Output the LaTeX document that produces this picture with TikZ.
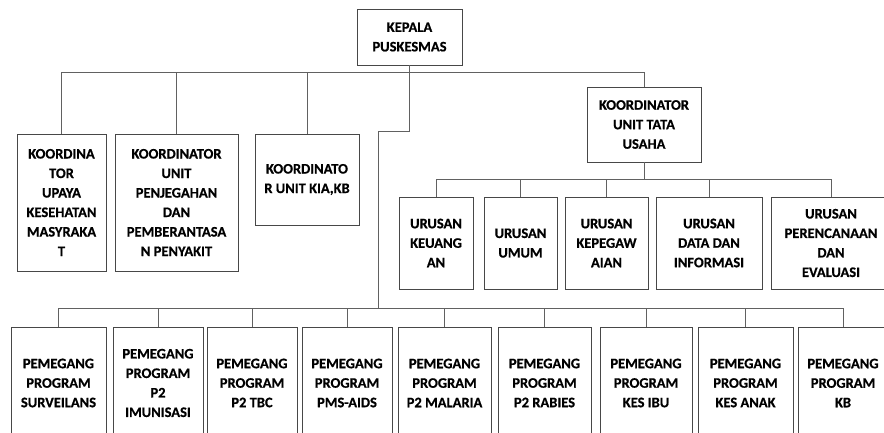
\documentclass[tikz,border=0pt]{standalone}
\usepackage{fontspec}
\setmainfont{Carlito}[BoldFont={Carlito Bold},BoldFeatures={FakeBold=0.6}]
\begin{document}
\begin{tikzpicture}[x=1pt,y=-1pt,
  bx/.style={draw=black!72,line width=0.9pt,rectangle,inner sep=0pt,align=center,
    font=\fontsize{14.5}{19.5}\selectfont\bfseries,text=black},
  ln/.style={draw=black!62,line width=0.9pt}]
\useasboundingbox (0,0) rectangle (884,432);
\clip (0,0) rectangle (884,432);
% nodes
\node[bx,minimum width=105,minimum height=56] (kepala) at (409.5,37) {KEPALA\\PUSKESMAS};
\node[bx,minimum width=89,minimum height=137] (k1) at (61.5,202.5) {KOORDINA\\TOR\\UPAYA\\KESEHATAN\\MASYRAKA\\T};
\node[bx,minimum width=123,minimum height=137] (k2) at (176.5,202.5) {KOORDINATOR\\UNIT\\PENJEGAHAN\\DAN\\PEMBERANTASA\\N PENYAKIT};
\node[bx,minimum width=104,minimum height=91] (k3) at (307,179.5) {KOORDINATO\\R UNIT KIA,KB};
\node[bx,minimum width=114,minimum height=75] (tu) at (644,124.5) {KOORDINATOR\\UNIT TATA\\USAHA};
\node[bx,minimum width=74,minimum height=92] (u1) at (436,243) {URUSAN\\KEUANG\\AN};
\node[bx,minimum width=73,minimum height=92] (u2) at (520.5,243) {URUSAN\\UMUM};
\node[bx,minimum width=83,minimum height=92] (u3) at (606.5,243) {URUSAN\\KEPEGAW\\AIAN};
\node[bx,minimum width=106,minimum height=92] (u4) at (709,243) {URUSAN\\DATA DAN\\INFORMASI};
\node[bx,minimum width=120,minimum height=92] (u5) at (831,243) {URUSAN\\PERENCANAAN\\DAN\\EVALUASI};
\node[bx,minimum width=95,minimum height=112] (b1) at (58.5,383) {PEMEGANG\\PROGRAM\\SURVEILANS};
\node[bx,minimum width=90,minimum height=112] (b2) at (158,383) {PEMEGANG\\PROGRAM\\P2\\IMUNISASI};
\node[bx,minimum width=90,minimum height=112] (b3) at (252,383) {PEMEGANG\\PROGRAM\\P2 TBC};
\node[bx,minimum width=90,minimum height=112] (b4) at (347,383) {PEMEGANG\\PROGRAM\\PMS-AIDS};
\node[bx,minimum width=93,minimum height=112] (b5) at (444.5,383) {PEMEGANG\\PROGRAM\\P2 MALARIA};
\node[bx,minimum width=93,minimum height=112] (b6) at (544.5,383) {PEMEGANG\\PROGRAM\\P2 RABIES};
\node[bx,minimum width=92,minimum height=112] (b7) at (646,383) {PEMEGANG\\PROGRAM\\KES IBU};
\node[bx,minimum width=95,minimum height=112] (b8) at (745.5,383) {PEMEGANG\\PROGRAM\\KES ANAK};
\node[bx,minimum width=90,minimum height=112] (b9) at (843,383) {PEMEGANG\\PROGRAM\\KB};
% bus coordinates
\coordinate (busA) at (0,72);
\coordinate (jog) at (378,131);
\coordinate (busT) at (0,179);
\coordinate (busB) at (0,308);
% top level connectors
\foreach \c in {k1,k2,k3,tu}
  \draw[ln] (kepala.south) -- (kepala.south |- busA) -| (\c.north);
% tata usaha connectors
\foreach \c in {u1,u2,u3,u4,u5}
  \draw[ln] (tu.south) -- (tu.south |- busT) -| (\c.north);
% program holders
\foreach \c in {b1,b2,b3,b4,b5,b6,b7,b8,b9}
  \draw[ln] (kepala.south) -- (kepala.south |- jog) -- (jog) -- (jog |- busB) -| (\c.north);
\end{tikzpicture}
\end{document}
